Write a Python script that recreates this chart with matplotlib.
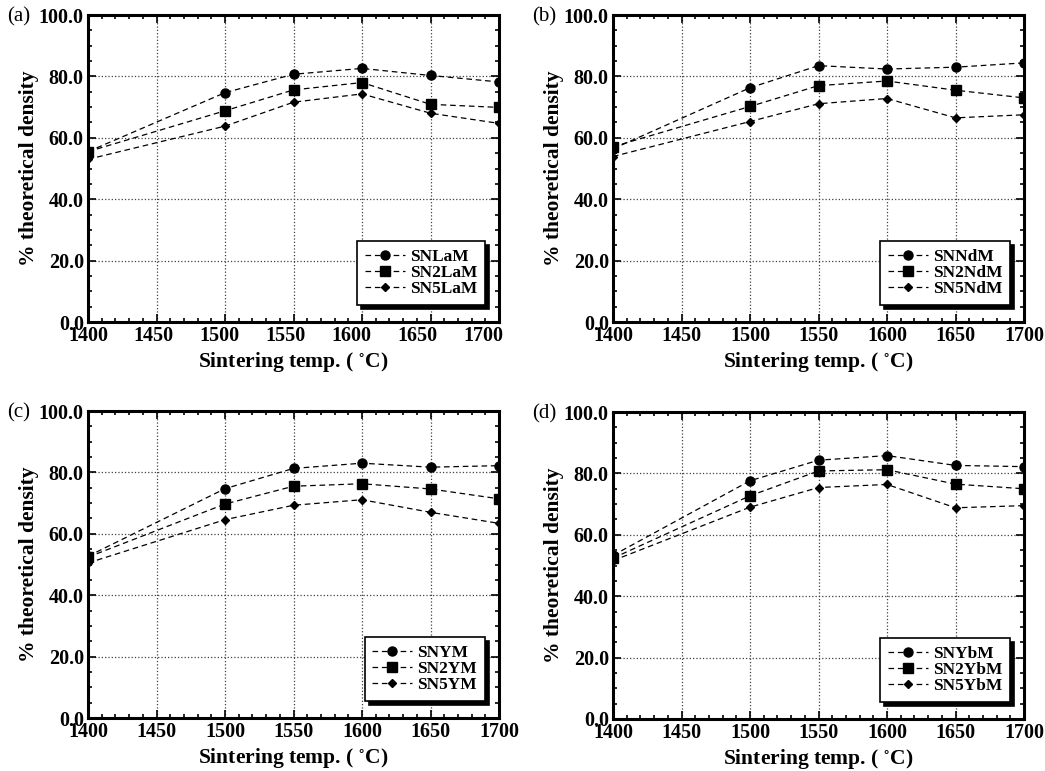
import numpy as np
import matplotlib
matplotlib.use("Agg")
import matplotlib.pyplot as plt
from matplotlib.ticker import MultipleLocator

plt.rcParams['font.family'] = ['Liberation Serif', 'DejaVu Serif']
plt.rcParams['mathtext.fontset'] = 'stix'

# Sintertemperaturer och densitet (% teoretisk)
temps = [1400, 1500, 1550, 1600, 1650, 1700]

la_1 = [55.5, 74.7, 80.7, 82.6, 80.3, 78.2]
la_2 = [55.5, 68.8, 75.6, 78.0, 70.9, 69.9]
la_5 = [53.0, 63.8, 71.6, 74.3, 68.0, 64.7]

nd_1 = [56.4, 76.3, 83.5, 82.4, 83.0, 84.4]
nd_2 = [57.1, 70.2, 77.0, 78.5, 75.5, 73.0]
nd_5 = [53.9, 65.3, 71.1, 72.8, 66.5, 67.5]

y_1 = [52.7, 74.7, 81.3, 83.0, 81.7, 82.2]
y_2 = [52.4, 69.7, 75.5, 76.3, 74.6, 71.4]
y_5 = [50.5, 64.6, 69.3, 71.1, 67.0, 63.4]

yb_1 = [53.3, 77.6, 84.3, 85.8, 82.6, 82.2]
yb_2 = [52.4, 72.7, 80.8, 81.2, 76.5, 75.0]
yb_5 = [51.6, 69.0, 75.4, 76.4, 68.8, 69.5]

panel_tags = ['(a)', '(b)', '(c)', '(d)']
elements = ['La', 'Nd', 'Y', 'Yb']
series = [(la_1, la_2, la_5), (nd_1, nd_2, nd_5), (y_1, y_2, y_5), (yb_1, yb_2, yb_5)]
xticks = [1400, 1450, 1500, 1550, 1600, 1650, 1700]
yticks = [0, 20, 40, 60, 80, 100]

fig = plt.figure(figsize=(10.45, 7.71), dpi=100)
W, H = 1045, 771
# axes-rutor i pixlar: vänster, topp
boxes = [(88, 15), (613, 15), (88, 411), (613, 412)]
aw, ah = 411, 307
tick_fs = 14.5

for i, (tag, el, (s1, s2, s5)) in enumerate(zip(panel_tags, elements, series)):
    left, top = boxes[i]
    ax = fig.add_axes([left / W, 1 - (top + ah) / H, aw / W, ah / H])

    names = [f'SN{el}M', f'SN2{el}M', f'SN5{el}M']
    ax.plot(temps, s1, ls=(0, (4.5, 3)), lw=0.9, color='k', marker='o', ms=6.5, label=names[0])
    ax.plot(temps, s2, ls=(0, (4.5, 3)), lw=0.9, color='k', marker='s', ms=6.5, label=names[1])
    ax.plot(temps, s5, ls=(0, (4.5, 3)), lw=0.9, color='k', marker='D', ms=4.5, label=names[2])

    ax.set_xlim(1400, 1700)
    ax.set_ylim(0, 100)
    ax.set_xticks(xticks)
    ax.set_yticks(yticks)
    ax.set_yticklabels([f'{v:.1f}' for v in yticks])
    ax.xaxis.set_minor_locator(MultipleLocator(10))
    ax.yaxis.set_minor_locator(MultipleLocator(5))
    ax.tick_params(which='both', direction='in', top=True, right=True, width=1.2)
    ax.tick_params(which='major', length=6, labelsize=tick_fs, pad=3)
    ax.tick_params(which='minor', length=3)
    for lab in ax.get_xticklabels() + ax.get_yticklabels():
        lab.set_fontweight('bold')
    for sp in ax.spines.values():
        sp.set_linewidth(2.2)
    ax.grid(True, which='major', ls=':', lw=0.9, color='0.25')

    xpad = 3
    if i == 0:
        # i (a) sitter etiketterna lite förskjutna mot vänster
        ax.set_xticklabels([])
        for t in xticks:
            ax.text(1400 + (t - 1400) * 300 / 312, -1.2, str(t), ha='center', va='top',
                    fontsize=tick_fs, fontweight='bold', clip_on=False)
        xpad = 17

    ax.set_xlabel('Sintering temp. ( $^{\\circ}$C)', fontsize=15.5, fontweight='bold', labelpad=xpad)
    ax.set_ylabel('% theoretical density', fontsize=15.5, fontweight='bold', labelpad=0)

    leg = ax.legend(loc='lower right', bbox_to_anchor=(0.966, 0.055), borderaxespad=0,
                    fancybox=False, shadow={'color': 'black', 'alpha': 1, 'ox': 3, 'oy': -3},
                    edgecolor='black', framealpha=1,
                    prop={'weight': 'bold', 'size': 12.5}, handlelength=2.3, handletextpad=0.3,
                    labelspacing=0.0, borderpad=0.45)
    leg.get_frame().set_linewidth(1.2)

    fig.text((left - 81) / W, 1 - (top + 2) / H, tag, fontsize=15, ha='left', va='center')

fig.savefig('out.png', dpi=100)
